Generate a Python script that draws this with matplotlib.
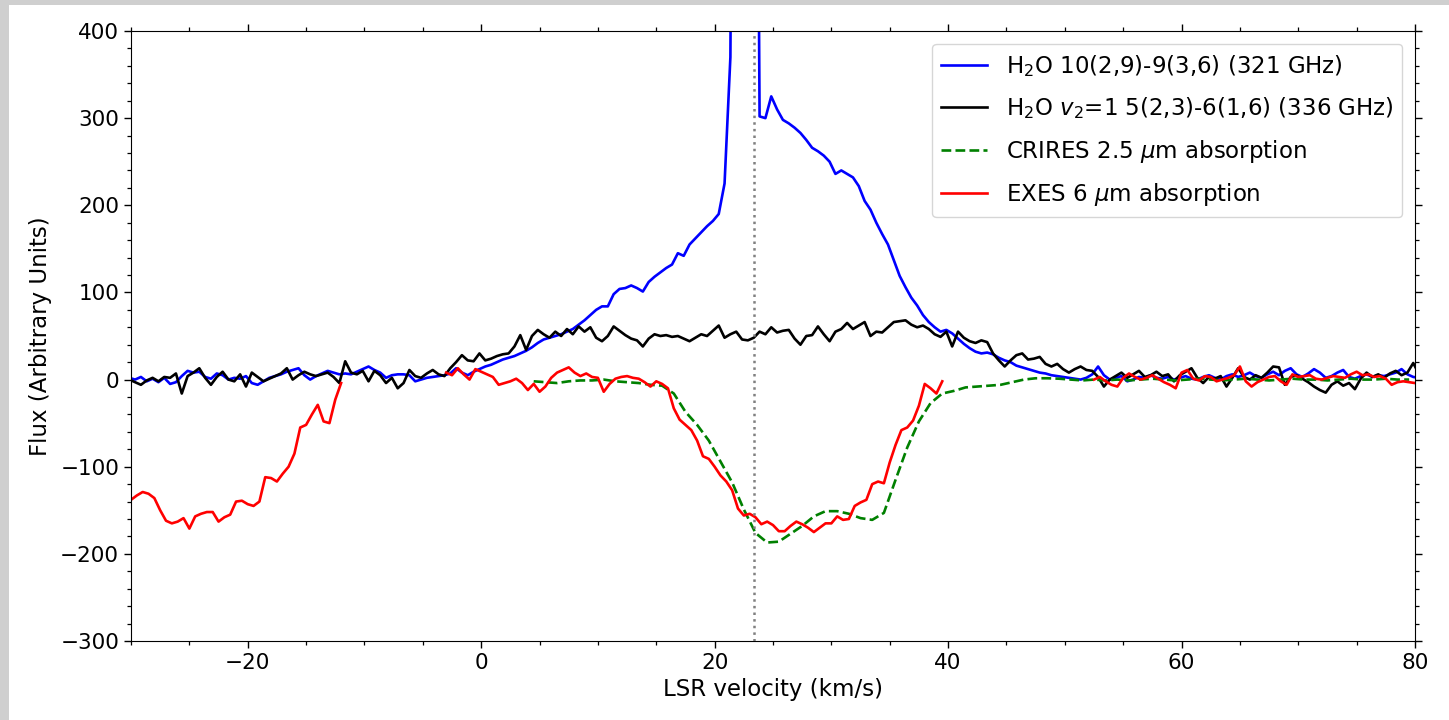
import numpy as np
import matplotlib
matplotlib.use("Agg")
import matplotlib.pyplot as plt
from matplotlib.ticker import MultipleLocator
from matplotlib.patches import Rectangle

# ---------------- data ----------------
# ALMA channels (shared velocity grid for the two H2O lines)
alma_v0 = -30.15
alma_dv = 0.5

h2o_321 = [
    2, 0, 3, -2, 1, -3, 2, -5, -3, 4, 10, 8, 9, 3, 1, 7, 5, 0, 2, 1,
    4, -4, -6, -2, 2, 4, 6, 9, 11, 13, 5, 0, 4, 7, 10, 8, 6, 7, 6, 9,
    12, 15, 11, 8, 2, 5, 6, 6, 5, -2, 0, 2, 3, 4, 5, 7, 13, 8, 5, 9,
    12, 15, 17, 20, 23, 25, 27, 30, 33, 37, 42, 46, 48, 50, 52, 55, 58, 63, 68, 74,
    80, 84, 84, 98, 104, 105, 108, 105, 101, 112, 118, 123, 128, 132, 145, 142, 155, 162, 169, 176,
    182, 190, 225, 370, 1500, 2500, 2200, 1400, 302, 300, 325, 310, 298, 294, 289, 283, 275, 266, 262, 257,
    250, 236, 240, 236, 232, 222, 205, 195, 180, 167, 155, 137, 119, 106, 94, 85, 74, 66, 60, 55,
    57, 53, 47, 41, 36, 32, 30, 31, 29, 25, 22, 20, 16, 14, 12, 10, 8, 7, 5, 4,
    3, 2, 1, 0, 2, 6, 15, 5, 0, 2, 4, -2, 0, 3, 2, 5, 2, 1, 3, 0,
    2, 4, 1, 0, 3, 5, 2, 0, 4, 6, 3, 5, 8, 4, 2, 6, 9, 5, 10, 13,
    6, 3, 7, 12, 8, 2, 4, 8, 11, 3, 1, 4, 6, 3, 5, 4, 6, 8, 12, 6,
    3, 2,
]

h2o_336 = [
    0, -3, -6, -1, 2, -2, 3, 2, 7, -16, 4, 8, 13, 2, -6, 3, 9, 0, -2, 6,
    -8, 8, 3, -2, 1, 4, 7, 13, 0, 5, 9, 6, 4, 6, 8, 3, -4, 21, 8, 6,
    10, -2, 10, 5, -4, 2, -10, -4, 11, 4, 2, 7, 11, 6, 4, 13, 20, 28, 22, 21,
    30, 22, 24, 27, 29, 30, 38, 51, 34, 50, 57, 52, 48, 55, 50, 58, 52, 61, 55, 60,
    48, 44, 50, 61, 56, 51, 47, 45, 38, 47, 52, 50, 51, 49, 50, 47, 44, 48, 52, 50,
    56, 62, 48, 52, 55, 46, 45, 48, 55, 52, 60, 54, 56, 57, 47, 40, 50, 51, 61, 52,
    44, 55, 58, 65, 58, 62, 66, 50, 55, 54, 60, 66, 67, 68, 63, 60, 62, 58, 52, 49,
    55, 38, 55, 48, 44, 42, 45, 43, 30, 22, 15, 22, 28, 30, 23, 24, 26, 18, 15, 18,
    12, 8, 12, 15, 11, 10, 3, -8, 0, 4, 8, 2, 6, 10, 3, 5, 9, 4, 6, -2,
    5, 9, 13, 2, -4, 3, 1, 4, -8, 2, 13, 3, 0, 5, 2, 8, 15, 14, -6, 3,
    5, 1, -3, -8, -12, -15, -6, -2, -7, -4, -11, 1, 8, 3, 6, 2, 7, 10, 5, 8,
    19, 6,
]

# CRIRES 2.5 um absorption (smoother, 1 km/s sampling)
crires_v0 = 4.5
crires_dv = 1.0
crires = [
    -2, -3, -4, -2, -1, -1, 0, -2, -3, -4, -6, -7, -16, -37, -52, -70, -94, -118, -149, -176,
    -187, -186, -177, -168, -157, -151, -151, -154, -159, -161, -153, -115, -78, -48, -27, -16, -13, -9, -8, -7,
    -6, -3, 0, 1.5, 1.5, 1, 0, -1, 0, -1, 0, -1, 0, 1, 0, -1, 0, 1, 0, -1,
    0, 1, 0, -1, 0, 1, 0, 0, -1, 0, 1, 0, 0, 1, 0, 0,
]

# EXES 6 um absorption (three observed segments, 0.5 km/s sampling)
exes_dv = 0.5
exes_a_v0 = -30.0
exes_a = [
    -138, -133, -129, -131, -136, -150, -162, -165, -163, -159, -171, -157, -154, -152, -152, -163,
    -158, -155, -140, -139, -143, -145, -140, -112, -113, -117, -108, -100, -85, -55, -52, -40,
    -29, -48, -50, -23, -4,
]
exes_b_v0 = -3.0
exes_b = [
    8, 5, 13, 6, 0, 12, 9, 6, 3, -6, -4, -2, 1, -4, -12, -5, -14, -8, 2, 8,
    11, 14, 8, 4, 7, 3, 2, -14, -5, 1, 3, 4, 2, 1, -3, -8, -2, -5, -10, -33,
    -46, -52, -58, -70, -88, -91, -100, -110, -117, -127, -148, -156, -154, -158, -166, -163, -167, -174, -174, -168,
    -163, -166, -170, -175, -170, -165, -165, -157, -161, -160, -145, -141, -138, -120, -117, -119, -95, -75, -58, -55,
    -47, -30, -5, -10, -16, -2,
]
exes_c_v0 = 52.5
exes_c = [
    0, 3, -2, -6, -8, 2, 7, 3, 0, 2, 5, 1, -3, -6, -10, 8, 11, 1, -1, 4,
    3, -2, 0, 2, 5, 15, -2, -8, -3, 0, 3, 4, -2, -6, 6, 3, 4, 5, 1, 0,
    2, 4, 3, 2, 6, 9, 5, 6, 3, 4, 1, -6, -3, -2, -3, -4,
]

v_sys = 23.4

labels = [
    r"H$_2$O 10(2,9)-9(3,6) (321 GHz)",
    r"H$_2$O $v_2$=1 5(2,3)-6(1,6) (336 GHz)",
    r"CRIRES 2.5 $\mu$m absorption",
    r"EXES 6 $\mu$m absorption",
]
xlim = (-30, 80)
ylim = (-300, 400)


def grid(v0, dv, vals):
    return v0 + dv * np.arange(len(vals))


# ---------------- plot ----------------
fig = plt.figure(figsize=(14.49, 7.2), dpi=100, facecolor="#cfcfcf")
bg = Rectangle((9 / 1449, 0), 1, 1 - 5 / 720, transform=fig.transFigure,
               facecolor="white", edgecolor="none", zorder=-10)
fig.patches.append(bg)
ax = fig.add_axes([131 / 1449, 1 - 641 / 720, (1415 - 131) / 1449, (641 - 31) / 720])
ax.set_zorder(1)

lw = 1.9
ax.plot(grid(alma_v0, alma_dv, h2o_321), h2o_321, color="b", lw=lw, label=labels[0])
ax.plot(grid(alma_v0, alma_dv, h2o_336), h2o_336, color="k", lw=lw, label=labels[1])
ax.plot(grid(crires_v0, crires_dv, crires), crires, color="g", lw=lw, ls="--", label=labels[2])

ev = np.concatenate([grid(exes_a_v0, exes_dv, exes_a), [np.nan],
                     grid(exes_b_v0, exes_dv, exes_b), [np.nan],
                     grid(exes_c_v0, exes_dv, exes_c)])
ef = np.concatenate([exes_a, [np.nan], exes_b, [np.nan], exes_c])
ax.plot(ev, ef, color="r", lw=lw, label=labels[3])

ax.axvline(v_sys, color="gray", ls=":", lw=1.8)

ax.set_xlim(*xlim)
ax.set_ylim(*ylim)
ax.xaxis.set_major_locator(MultipleLocator(20))
ax.xaxis.set_minor_locator(MultipleLocator(5))
ax.yaxis.set_major_locator(MultipleLocator(100))
ax.yaxis.set_minor_locator(MultipleLocator(20))
ax.tick_params(which="both", top=True, right=True, direction="out", labelsize=15.5)
ax.tick_params(which="major", length=5, width=1)
ax.tick_params(which="minor", length=3, width=0.9)

ax.set_xlabel("LSR velocity (km/s)", fontsize=16.5, labelpad=4)
ax.set_ylabel("Flux (Arbitrary Units)", fontsize=16.5, labelpad=6)
ax.legend(loc="upper right", fontsize=16.5, labelspacing=0.72, borderaxespad=0.55,
          handlelength=2.0, handletextpad=0.8)

fig.savefig("out.png", dpi=100, facecolor=fig.get_facecolor())
